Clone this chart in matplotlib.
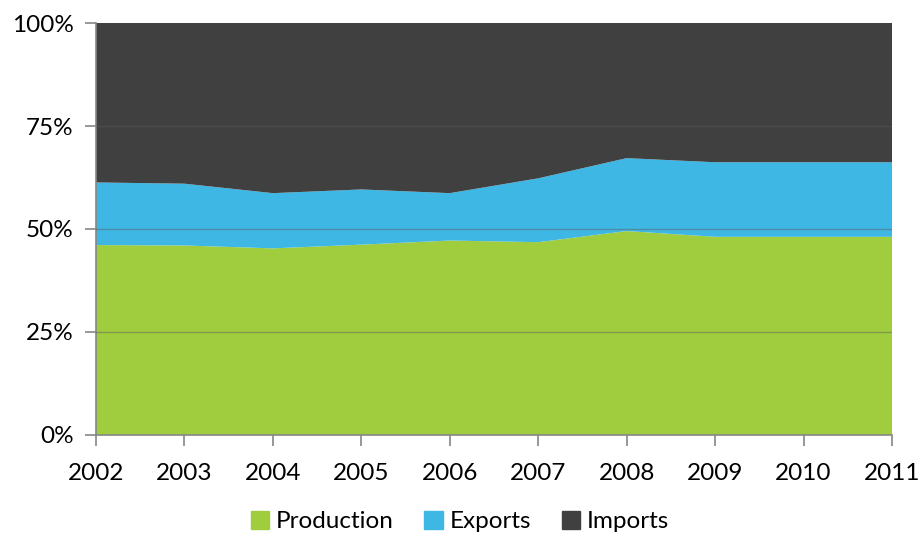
import numpy as np
import matplotlib.pyplot as plt
from matplotlib.patches import Patch

plt.rcParams['font.family'] = ['Lato', 'DejaVu Sans']

years = [2002, 2003, 2004, 2005, 2006, 2007, 2008, 2009, 2010, 2011]
production = [46.1, 46.0, 45.3, 46.2, 47.2, 46.8, 49.5, 48.1, 48.1, 48.1]
exports = [15.2, 15.0, 13.4, 13.4, 11.5, 15.5, 17.7, 18.1, 18.1, 18.1]
imports = [38.7, 39.0, 41.3, 40.4, 41.3, 37.7, 32.8, 33.8, 33.8, 33.8]

names = ['Production', 'Exports', 'Imports']
colors = ['#a0cd3e', '#3eb7e4', '#404040']

# normalise each year to 100%
data = np.array([production, exports, imports])
data = data / data.sum(axis=0) * 100

fig = plt.figure(figsize=(9.2, 5.39), dpi=100)
ax = fig.add_axes([0.1043, 0.193, 0.8653, 0.7643])

ax.stackplot(years, data, colors=colors, linewidth=0)

for y in [25, 50, 75]:
    ax.axhline(y, color='#5a5a5a', lw=1, alpha=0.45, zorder=3)

ax.set_xlim(2002, 2011)
ax.set_ylim(0, 100)
ax.set_xticks(years)
ax.set_yticks([0, 25, 50, 75, 100])
ax.set_yticklabels(['0%', '25%', '50%', '75%', '100%'])

for s in ['top', 'right']:
    ax.spines[s].set_visible(False)
for s in ['left', 'bottom']:
    ax.spines[s].set_color('#868686')
    ax.spines[s].set_linewidth(1.2)
ax.tick_params(axis='both', length=8, width=1.2, color='#868686',
               labelsize=17.5, direction='out')
ax.tick_params(axis='x', pad=12)
ax.tick_params(axis='y', pad=8)

handles = [Patch(color=c, label=n) for c, n in zip(colors, names)]
fig.legend(handles=handles, loc='lower center', bbox_to_anchor=(0.5, -0.028),
           ncol=3, frameon=False, fontsize=17.5, handlelength=0.75,
           handleheight=0.75, handletextpad=0.3, columnspacing=1.25)

fig.savefig('out.png', dpi=100)
